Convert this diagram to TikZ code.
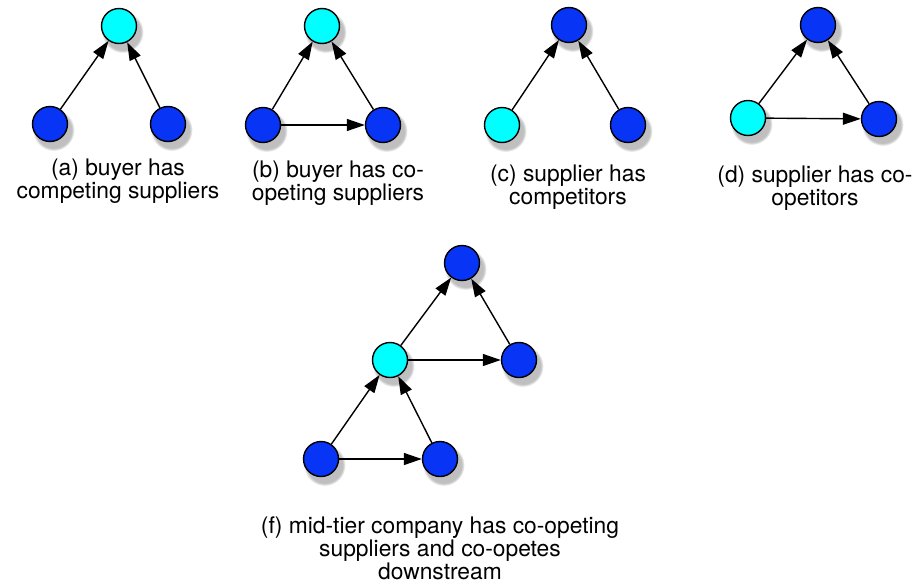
\documentclass[tikz,border=0pt]{standalone}
\usepackage{fontspec}
\setmainfont{TeX Gyre Heros}
\usetikzlibrary{arrows.meta,shadows}
\definecolor{nodeblue}{RGB}{8,52,245}
\definecolor{nodecyan}{RGB}{0,255,255}
\begin{document}
\begin{tikzpicture}[x=1pt,y=-1pt,
  vert/.style={circle, draw=black, line width=1.4pt, minimum size=35pt, inner sep=0pt,
    circular drop shadow={shadow xshift=3pt, shadow yshift=-5pt, shadow scale=1.2, opacity=0.5}},
  bluev/.style={vert, fill=nodeblue},
  cyanv/.style={vert, fill=nodecyan},
  arr/.style={line width=1.4pt, -{Triangle[length=18pt,width=12pt]}},
  captext/.style={font=\fontsize{22.8}{23}\selectfont, align=center, anchor=base, inner sep=0pt}]
\useasboundingbox (0,0) rectangle (916,584);
% (a)
\node[cyanv] (a0) at (119,26) {};
\node[bluev] (a1) at (50,124) {};
\node[bluev] (a2) at (168,124) {};
\draw[arr] (a1) -- (a0);
\draw[arr] (a2) -- (a0);
\node[captext] (la) at (118,198) {(a) buyer has\\competing suppliers};
% (b)
\node[cyanv] (b0) at (322,26) {};
\node[bluev] (b1) at (263,125) {};
\node[bluev] (b2) at (383,125) {};
\draw[arr] (b1) -- (b0);
\draw[arr] (b2) -- (b0);
\draw[arr] (b1) -- (b2);
\node[captext] (lb) at (338,200) {(b) buyer has co-\\opeting suppliers};
% (c)
\node[bluev] (c0) at (569,25) {};
\node[cyanv] (c1) at (502,125) {};
\node[bluev] (c2) at (628,125) {};
\draw[arr] (c1) -- (c0);
\draw[arr] (c2) -- (c0);
\node[captext] (lc) at (568,204) {(c) supplier has\\competitors};
% (d)
\node[bluev] (d0) at (818,25) {};
\node[cyanv] (d1) at (748,118) {};
\node[bluev] (d2) at (879,119) {};
\draw[arr] (d1) -- (d0);
\draw[arr] (d2) -- (d0);
\draw[arr] (d1) -- (d2);
\node[captext] (ld) at (815,205) {(d) supplier has co-\\opetitors};
% (f)
\node[bluev] (f0) at (462,263) {};
\node[cyanv] (fm) at (390,360) {};
\node[bluev] (fr) at (519,360) {};
\node[bluev] (fbl) at (321,459) {};
\node[bluev] (fbr) at (440,459) {};
\draw[arr] (fm) -- (f0);
\draw[arr] (fr) -- (f0);
\draw[arr] (fm) -- (fr);
\draw[arr] (fbl) -- (fm);
\draw[arr] (fbr) -- (fm);
\draw[arr] (fbl) -- (fbr);
\node[captext] (lf) at (440,579) {(f) mid-tier company has co-opeting\\suppliers and co-opetes\\downstream};
\end{tikzpicture}
\end{document}
